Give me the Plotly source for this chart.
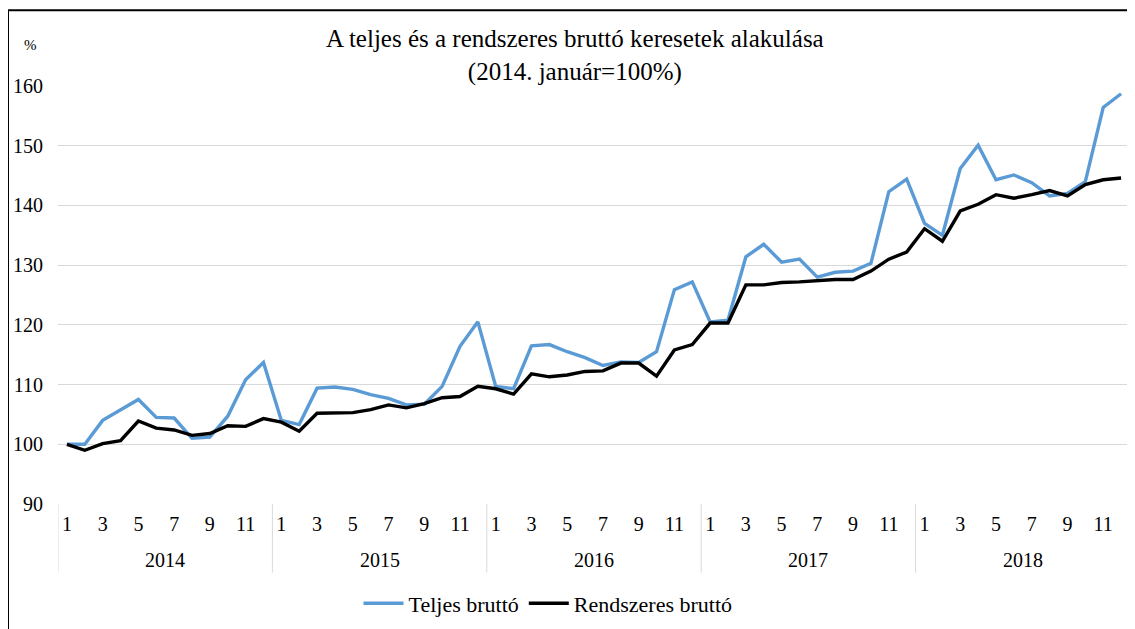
import plotly.graph_objects as go

years = ["2014", "2015", "2016", "2017", "2018"]
months = list(range(1, 13))

teljes = [
    100.0, 100.0, 104.0, 105.7, 107.5, 104.5, 104.4, 101.0, 101.2, 104.7, 110.8, 113.7,
    104.0, 103.3, 109.4, 109.6, 109.2, 108.3, 107.7, 106.6, 106.7, 109.7, 116.4, 120.5,
    109.7, 109.3, 116.5, 116.7, 115.5, 114.5, 113.2, 113.8, 113.7, 115.5, 125.9, 127.2,
    120.5, 120.8, 131.4, 133.5, 130.5, 131.0, 128.0, 128.8, 129.0, 130.3, 142.3, 144.4,
    137.0, 135.0, 146.2, 150.1, 144.3, 145.1, 143.8, 141.6, 142.0, 144.0, 156.4, 158.7,
]
rendszeres = [
    100.0, 99.0, 100.1, 100.6, 103.9, 102.7, 102.4, 101.5, 101.8, 103.1, 103.0, 104.3,
    103.7, 102.2, 105.2, 105.2, 105.3, 105.8, 106.6, 106.1, 106.8, 107.8, 108.0, 109.7,
    109.3, 108.4, 111.8, 111.3, 111.6, 112.2, 112.3, 113.6, 113.6, 111.4, 115.8, 116.7,
    120.3, 120.3, 126.7, 126.7, 127.1, 127.2, 127.4, 127.6, 127.6, 129.0, 131.0, 132.2,
    136.1, 134.0, 139.1, 140.2, 141.8, 141.2, 141.8, 142.5, 141.6, 143.5, 144.3, 144.6,
]

series_names = ["Teljes bruttó", "Rendszeres bruttó"]
title_line1 = "A teljes és a rendszeres bruttó keresetek alakulása"
title_line2 = "(2014. január=100%)"

x = list(range(len(years) * len(months)))
month_of = [months[i % 12] for i in x]
tickvals = [i for i in x if month_of[i] % 2 == 1]
ticktext = [str(month_of[i]) for i in tickvals]

FONT = "Liberation Serif, Times New Roman, serif"
GRID = "#d9d9d9"

fig = go.Figure()
fig.add_trace(go.Scatter(x=x, y=teljes, mode="lines", name=series_names[0],
                         line=dict(color="#5b9bd5", width=3.4)))
fig.add_trace(go.Scatter(x=x, y=rendszeres, mode="lines", name=series_names[1],
                         line=dict(color="#000000", width=3.4)))

H = 420.0
W = 1072.0
def py(p):
    return (506 - p) / H
def px(p):
    return (p - 58) / W

# year labels and dividers
for k, yr in enumerate(years):
    fig.add_annotation(x=5.5 + 12 * k, y=py(562), xref="x", yref="paper", text=yr,
                       showarrow=False, font=dict(family=FONT, size=20, color="#000"),
                       yanchor="middle")
for k in range(len(years) + 1):
    fig.add_shape(type="line", xref="x", yref="paper", x0=-0.5 + 12 * k, x1=-0.5 + 12 * k,
                  y0=0, y1=py(575), line=dict(color=GRID, width=1))

# title
fig.add_annotation(x=px(575), y=py(23), xref="paper", yref="paper",
                   text=title_line1 + "<br>" + title_line2, showarrow=False,
                   font=dict(family=FONT, size=25, color="#000"), yanchor="top",
                   xanchor="center", align="center")
# % unit
fig.add_annotation(x=px(30), y=py(45), xref="paper", yref="paper", text="%",
                   showarrow=False, font=dict(family=FONT, size=15, color="#000"),
                   xanchor="center", yanchor="middle")

# outer frame
fig.add_shape(type="rect", xref="paper", yref="paper",
              x0=px(8), x1=px(1133), y0=py(660), y1=py(10),
              line=dict(color="#000", width=2), layer="below")

# page body has an 8px margin: size figure so the plot area lands where intended
fig.update_layout(
    width=1127, height=621,
    margin=dict(l=50, r=5, t=78, b=123),
    paper_bgcolor="white", plot_bgcolor="white",
    font=dict(family=FONT, color="#000"),
    showlegend=True,
    legend=dict(orientation="h", x=px(548), xanchor="center", y=py(606),
                yanchor="middle", font=dict(family=FONT, size=22), itemwidth=40,
                traceorder="normal"),
    xaxis=dict(range=[-0.5, 59.5], tickvals=tickvals, ticktext=ticktext,
               tickfont=dict(family=FONT, size=20), showgrid=False, zeroline=False,
               showline=False, ticks="", ticklabelstandoff=6),
    yaxis=dict(range=[90, 160], dtick=10, tick0=90, tickfont=dict(family=FONT, size=20),
               gridcolor=GRID, gridwidth=1, zeroline=False, showline=False,
               ticklabelstandoff=14),
)

fig.write_html("out.html")
